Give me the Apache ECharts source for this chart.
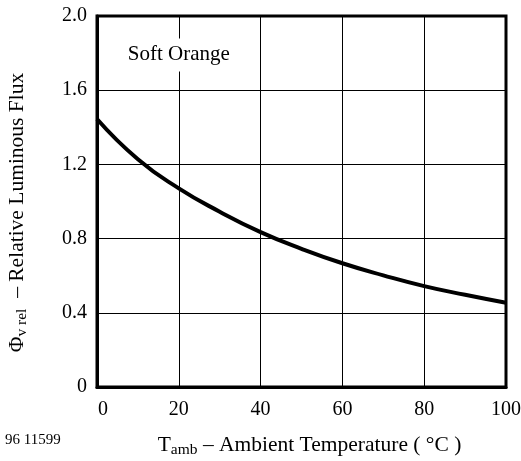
<!DOCTYPE html>
<html>
<head>
<meta charset="utf-8">
<script src="https://cdn.jsdelivr.net/npm/echarts@6/dist/echarts.min.js"></script>
<style>
html,body{margin:0;padding:0;background:#fff;}
#c{width:521px;height:461px;}
</style>
</head>
<body>
<div id="c"></div>
<script>
// Data
const temperatures = [0, 10, 20, 30, 40, 50, 60, 70, 80, 90, 100];
const relFlux = [1.445, 1.228, 1.071, 0.945, 0.835, 0.745, 0.667, 0.602, 0.544, 0.497, 0.454];
const xTicks = [0, 20, 40, 60, 80, 100];
const yTicks = ['0', '0.4', '0.8', '1.2', '1.6', '2.0'];
const seriesLabel = 'Soft Orange';
const labelPos = [20, 1.79];
const figureId = '96 11599';

const FONT = 'Liberation Serif';
const chart = echarts.init(document.getElementById('c'), null, {renderer: 'canvas'});
chart.setOption({
  animation: false,
  backgroundColor: '#fff',
  grid: {left: 97, right: 15, top: 16, bottom: 74, show: true, borderColor: '#000', borderWidth: 3,
    containLabel: false, outerBoundsMode: 'none'},
  xAxis: {
    type: 'value', min: 0, max: 100, interval: 20,
    axisLine: {show: true, lineStyle: {color: '#000', width: 3}},
    axisTick: {show: false},
    splitLine: {show: true, lineStyle: {color: '#000', width: 1}},
    axisLabel: {color: '#000', fontFamily: FONT, fontSize: 20, margin: 13,
      formatter: v => v === 0 ? '{z|0}' : (v === 100 ? '{h|100}' : String(v)),
      rich: {
        z: {fontFamily: FONT, fontSize: 20, color: '#000', padding: [0, 0, 0, 12]},
        h: {fontFamily: FONT, fontSize: 20, color: '#000', padding: [0, 0, 6, 0]}
      }},
    name: '{t|T}{s|amb}{t| – Ambient Temperature ( °C )}',
    nameLocation: 'middle', nameGap: 46,
    nameTextStyle: {padding: [0, 0, 0, 16], rich: {
      t: {fontFamily: FONT, fontSize: 21.5, color: '#000'},
      s: {fontFamily: FONT, fontSize: 15.5, color: '#000', padding: [9, 0, 0, 0]}
    }}
  },
  yAxis: {
    type: 'value', min: 0, max: 2, interval: 0.4,
    axisLine: {show: true, lineStyle: {color: '#000', width: 3}},
    axisTick: {show: false},
    splitLine: {show: true, lineStyle: {color: '#000', width: 1}},
    axisLabel: {color: '#000', fontFamily: FONT, fontSize: 20, margin: 10,
      formatter: v => yTicks[Math.round(v / 0.4)]},
    name: '{t|Φ}{s|v rel}{t|  – Relative Luminous Flux}',
    nameLocation: 'middle', nameGap: 67, nameRotate: 90,
    nameTextStyle: {padding: [0, 22, 0, 0], rich: {
      t: {fontFamily: FONT, fontSize: 21.5, color: '#000'},
      s: {fontFamily: FONT, fontSize: 15.5, color: '#000', padding: [10, 0, 0, 0]}
    }}
  },
  series: [{
    type: 'line',
    data: temperatures.map((t, i) => [t, relFlux[i]]),
    smooth: true,
    showSymbol: false,
    lineStyle: {color: '#000', width: 4},
    markPoint: {
      symbol: 'rect', symbolSize: 0,
      data: [{coord: labelPos, value: seriesLabel}],
      label: {show: true, position: 'inside', formatter: seriesLabel, color: '#000',
        fontFamily: FONT, fontSize: 21, backgroundColor: '#fff', padding: [6, 6, 6, 6]}
    }
  }],
  graphic: [{
    type: 'text', left: 5, top: 433,
    style: {text: figureId, fontFamily: FONT, fontSize: 15, fill: '#000'}
  }]
});
</script>
</body>
</html>
